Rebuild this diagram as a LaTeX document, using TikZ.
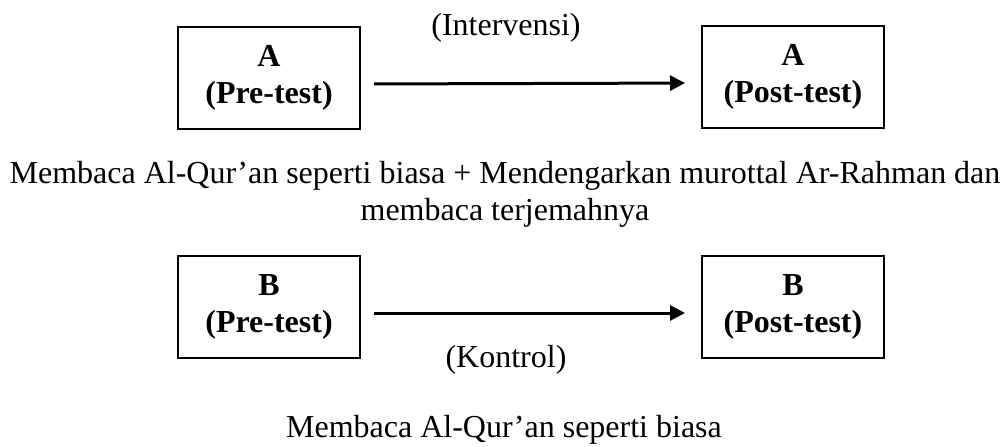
\documentclass[tikz,border=0pt]{standalone}
\usepackage{fontspec}
\setmainfont{Liberation Serif}
\usetikzlibrary{arrows.meta}

\begin{document}
\begin{tikzpicture}[x=0.5pt, y=-0.5pt, font=\fontsize{16}{18.5}\selectfont] %units are pixels of the sketch, y goes down
\tikzstyle{box} = [draw, line width=1pt, minimum width=91pt, minimum height=51pt, inner sep=0pt, align=center, font=\fontsize{16}{18.5}\selectfont\bfseries]
\tikzstyle{arrow} = [-{Triangle[length=7.5pt, width=7.5pt]}, line width=1.5pt, shorten <=6.5pt, shorten >=8pt]
\useasboundingbox (0,0) rectangle (1007,446);
\node[box] (preA) at (269,78) {A\\(Pre-test)};
\node[box] (postA) at (793,77) {A\\(Post-test)};
\node[box] (preB) at (269,307) {B\\(Pre-test)};
\node[box] (postB) at (793,307) {B\\(Post-test)};
\draw[arrow] ([yshift=-3pt]preA.east) -- ([yshift=-3pt]postA.west);
\draw[arrow] ([yshift=-3pt]preB.east) -- ([yshift=-3pt]postB.west);
\node[anchor=base] (interv) at (506,35) {(Intervensi)};
\node[anchor=base] (kontrol) at (506,367) {(Kontrol)};
\node[align=center] (treatA) at (505,194) {Membaca Al-Qur’an seperti biasa + Mendengarkan murottal Ar-Rahman dan\\membaca terjemahnya}; %two lines
\node[anchor=base] (treatB) at (504,437) {Membaca Al-Qur’an seperti biasa};
\end{tikzpicture}
\end{document}
